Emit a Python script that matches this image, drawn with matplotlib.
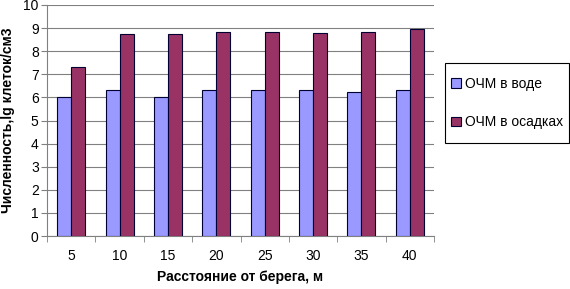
import numpy as np
import matplotlib
matplotlib.use('Agg')
import matplotlib.pyplot as plt
from matplotlib.patches import Rectangle

plt.rcParams['font.family'] = ['Liberation Sans', 'DejaVu Sans']

distances = ['5', '10', '15', '20', '25', '30', '35', '40']
water = [6.0, 6.3, 6.0, 6.3, 6.3, 6.3, 6.25, 6.3]
sediment = [7.33, 8.75, 8.75, 8.83, 8.83, 8.78, 8.83, 8.96]
series_names = ['ОЧМ в воде', 'ОЧМ в осадках']

W, H = 570, 289
fig = plt.figure(figsize=(5.7, 2.89), dpi=100)
ax = fig.add_axes([47 / W, 1 - 236 / H, 387 / W, 231 / H])

x = np.arange(len(distances))
w = 0.29
b1 = ax.bar(x - w / 2, water, w, color='#9999FF', edgecolor='#000033', linewidth=0.8, zorder=3, label=series_names[0])
b2 = ax.bar(x + w / 2, sediment, w, color='#993366', edgecolor='#000033', linewidth=0.8, zorder=3, label=series_names[1])

ax.set_xlim(-0.5, len(distances) - 0.5)
ax.set_ylim(0, 10)
ax.set_yticks(range(0, 11))
ax.set_xticks(x)
ax.set_xticklabels(distances)
ax.set_xticks(np.arange(-0.5, len(distances)), minor=True)
ax.tick_params(axis='x', which='major', length=0, pad=9, labelsize=10)
ax.tick_params(axis='x', which='minor', length=4, direction='out', color='#808080')
ax.tick_params(axis='y', length=4, direction='out', color='#808080', labelsize=10, pad=2)
ax.yaxis.grid(True, color='#808080', linewidth=0.8, zorder=0)

for side in ('top', 'right'):
    ax.spines[side].set_visible(False)
ax.spines['left'].set_color('#808080')
ax.spines['bottom'].set_color('#808080')

fig.text(240 / W, 1 - 277 / H, 'Расстояние от берега, м', fontsize=10, fontweight='bold',
         ha='center', va='center')
ax.set_ylabel('Численность,lg клеток/см3', fontsize=10, fontweight='bold', labelpad=6)

# legend box
fig.patches.append(Rectangle((445 / W, 1 - 143 / H), 124 / W, 80 / H, transform=fig.transFigure,
                             facecolor='white', edgecolor='black', linewidth=0.8))
leg = fig.legend(handles=[b1, b2], loc='upper left', bbox_to_anchor=(451 / W, 1 - 77 / H),
                 frameon=False, fontsize=10, handlelength=0.7, handleheight=0.7,
                 handletextpad=0.3, labelspacing=1.75, borderpad=0, borderaxespad=0)

fig.savefig('out.png', dpi=100)
